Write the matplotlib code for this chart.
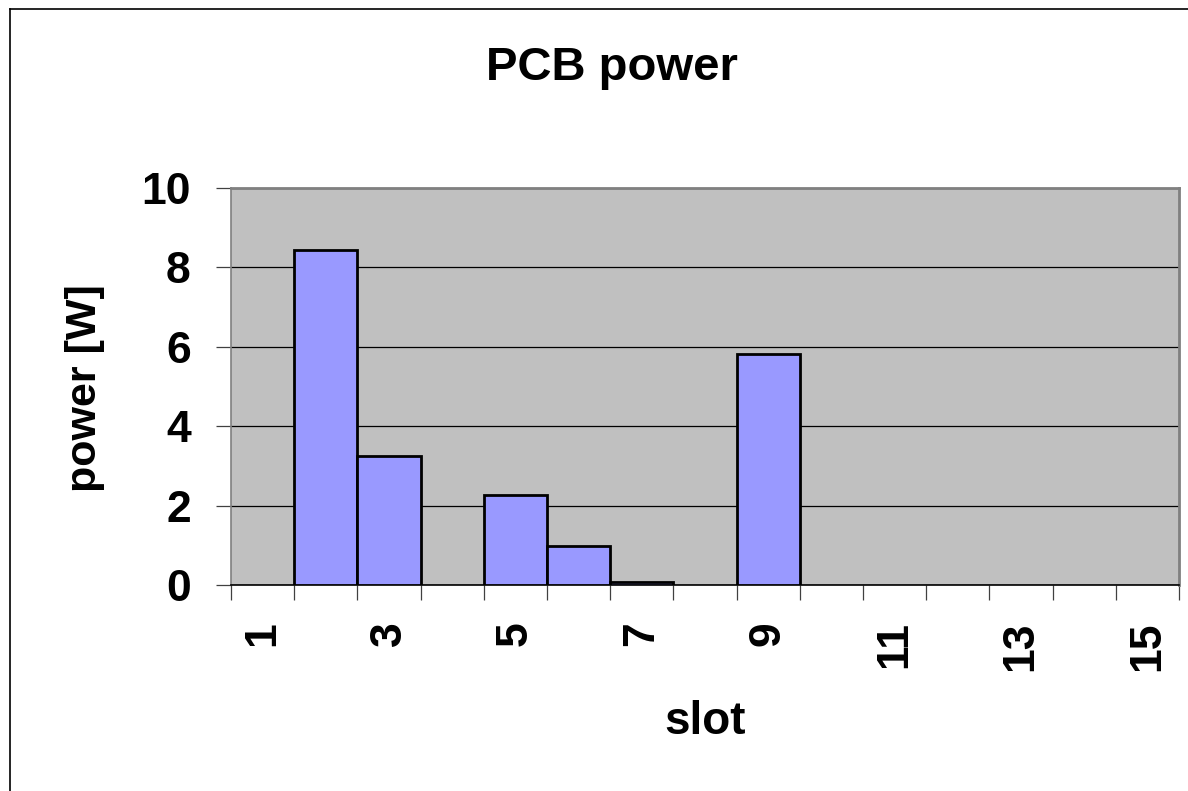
import matplotlib
matplotlib.use("Agg")
import matplotlib.pyplot as plt
from matplotlib.lines import Line2D

slots = list(range(1, 16))
power = [0, 8.43, 3.25, 0, 2.27, 0.99, 0.07, 0, 5.82, 0, 0, 0, 0, 0, 0]
y_ticks = [0, 2, 4, 6, 8, 10]
x_labels = [str(s) for s in slots if s % 2 == 1]
title = "PCB power"
xlabel = "slot"
ylabel = "power [W]"

plt.rcParams['font.family'] = ['Liberation Sans', 'DejaVu Sans']
plt.rcParams['font.weight'] = 'bold'

W, H = 1188, 791
fig = plt.figure(figsize=(W / 100, H / 100), dpi=100)
ax = fig.add_axes([231 / W, 1 - 585 / H, (1179 - 231) / W, (585 - 188) / H])
ax.set_facecolor('#C0C0C0')

lw = [2.0 if v > 0 else 0 for v in power]
ax.bar(slots, power, width=1.0, color='#9999FF', edgecolor='black',
       linewidth=lw, zorder=3)

ax.set_xlim(0.5, 15.5)
ax.set_ylim(0, 10)
ax.set_yticks(y_ticks)
ax.set_yticklabels([str(t) for t in y_ticks], fontsize=32, fontweight='bold')
ax.yaxis.grid(True, color='black', linewidth=0.9, zorder=1)
ax.set_axisbelow(True)

# category boundaries as major ticks, labels at odd category centres
ax.set_xticks([s - 0.5 for s in slots] + [15.5])
ax.set_xticklabels([])
ax.set_xticks([s for s in slots if s % 2 == 1], minor=True)
ax.set_xticklabels(x_labels, minor=True, rotation=90, fontsize=32,
                   fontweight='bold', ha='center', va='top')
ax.tick_params(axis='x', which='major', length=11, width=0.9, color='#404040',
               direction='out')
ax.tick_params(axis='x', which='minor', length=0, pad=26)
ax.tick_params(axis='y', which='major', length=11, width=0.9, color='#404040',
               pad=18)

for side in ['top', 'right']:
    ax.spines[side].set_color('#808080')
    ax.spines[side].set_linewidth(2)
ax.spines['left'].set_color('#808080')
ax.spines['left'].set_linewidth(1.2)
ax.spines['bottom'].set_color('black')
ax.spines['bottom'].set_linewidth(1.2)

fig.text(705 / W, 1 - 722 / H, xlabel, fontsize=33, fontweight='bold',
         ha='center', va='center')
fig.text(85 / W, 1 - 388 / H, ylabel, fontsize=31, fontweight='bold',
         ha='center', va='center', rotation=90)
fig.text(612 / W, 1 - 68 / H, title, fontsize=34, fontweight='bold',
         ha='center', va='center')

# outer chart border (left and top visible)
fig.add_artist(Line2D([10 / W, 10 / W], [0, 1 - 9 / H], transform=fig.transFigure,
                      color='black', linewidth=1.2))
fig.add_artist(Line2D([10 / W, 1], [1 - 9 / H, 1 - 9 / H], transform=fig.transFigure,
                      color='black', linewidth=1.2))

fig.savefig('out.png', dpi=100)
